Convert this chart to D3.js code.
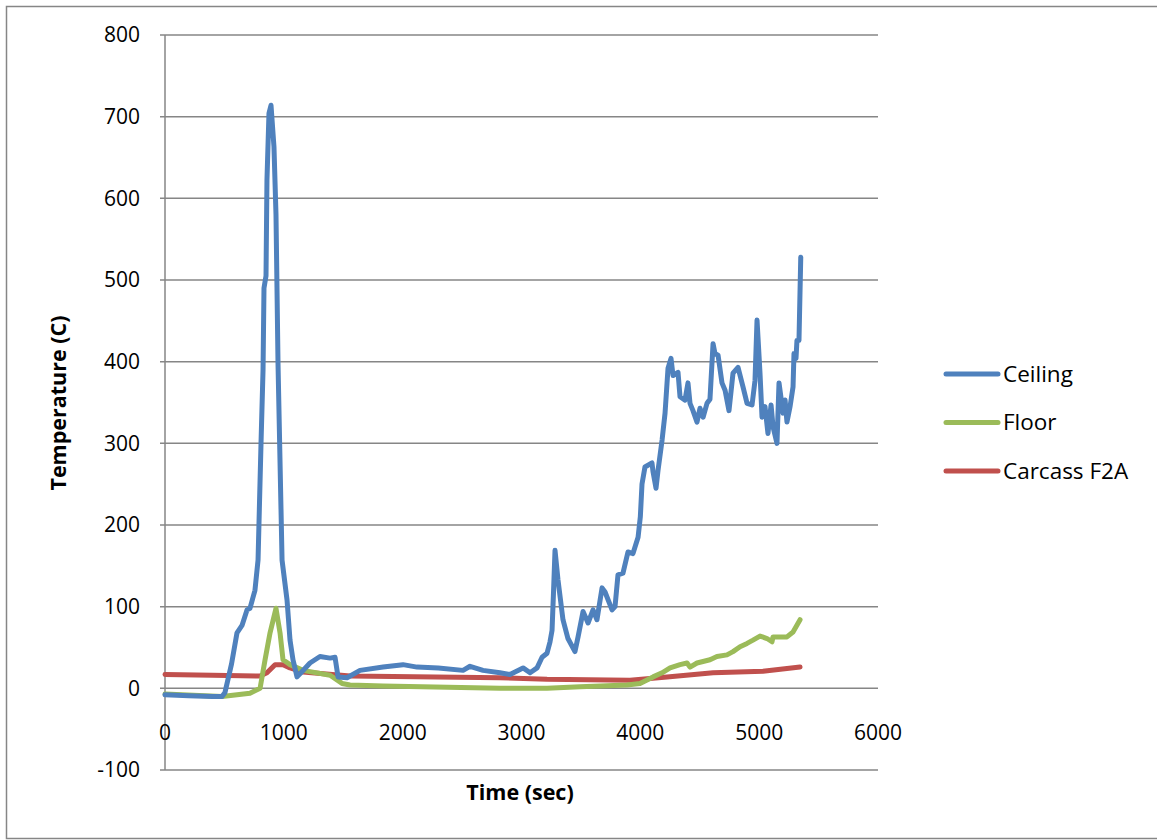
<!DOCTYPE html>
<meta charset="utf-8">
<title>Temperature vs time</title>
<style>
  body { margin: 0; background: #fff; }
  svg text { font-family: "Open Sans", Lato, sans-serif; fill: #000; }
  .grid line { stroke: #868686; stroke-width: 1.5px; }
  .series { fill: none; stroke-width: 5px; stroke-linejoin: round; stroke-linecap: round; }
</style>
<body>
<svg width="1157" height="840"></svg>
<script src="https://d3js.org/d3.v7.min.js"></script>
<script>
  // tick values
  var xTicks = [0, 1000, 2000, 3000, 4000, 5000, 6000];
  var yTicks = [-100, 0, 100, 200, 300, 400, 500, 600, 700, 800];

  // series: time (sec) and temperature (C)
  var ceilingTime = [0, 200, 400, 480, 505, 560, 606, 648, 690, 715, 757, 783, 808, 825, 833, 850, 858, 875, 892, 917, 934, 951, 985, 1027, 1052, 1077, 1111, 1150, 1220, 1304, 1389, 1431, 1456, 1532, 1641, 1835, 2003, 2121, 2300, 2508, 2567, 2676, 2819, 2903, 3013, 3072, 3131, 3173, 3215, 3240, 3257, 3270, 3282, 3307, 3349, 3391, 3450, 3476, 3518, 3560, 3602, 3635, 3678, 3703, 3762, 3787, 3812, 3854, 3896, 3938, 3981, 4000, 4014, 4039, 4098, 4107, 4132, 4149, 4183, 4208, 4233, 4258, 4275, 4317, 4334, 4376, 4401, 4418, 4443, 4477, 4502, 4528, 4561, 4586, 4612, 4628, 4654, 4687, 4713, 4746, 4780, 4822, 4864, 4898, 4940, 4965, 4982, 4990, 5007, 5024, 5049, 5074, 5100, 5117, 5150, 5167, 5201, 5218, 5234, 5260, 5285, 5293, 5310, 5318, 5335, 5350];
  var ceilingTemp = [-8, -9, -10, -10, -5, 30, 68, 77, 96, 98, 120, 157, 300, 390, 490, 505, 622, 704, 714, 663, 580, 398, 157, 108, 59, 35, 14, 20, 31, 39, 37, 38, 14, 13, 22, 26, 29, 26, 25, 22, 27, 22, 19, 17, 25, 19, 25, 38, 43, 57, 71, 120, 169, 133, 84, 61, 45, 63, 94, 80, 96, 84, 123, 118, 96, 100, 139, 141, 167, 165, 185, 210, 250, 271, 276, 265, 245, 267, 304, 337, 392, 404, 383, 387, 357, 353, 374, 349, 340, 326, 343, 332, 349, 354, 422, 410, 408, 374, 365, 340, 386, 393, 369, 349, 347, 377, 451, 430, 386, 332, 345, 312, 347, 320, 300, 374, 337, 353, 326, 345, 369, 410, 404, 426, 426, 528];

  var floorTime = [0, 480, 715, 800, 842, 884, 934, 968, 993, 1052, 1161, 1389, 1490, 1557, 1835, 2819, 3215, 3492, 3888, 3997, 4107, 4183, 4250, 4334, 4393, 4418, 4477, 4586, 4645, 4729, 4780, 4839, 4898, 4948, 5007, 5066, 5108, 5117, 5234, 5285, 5344];
  var floorTemp = [-7, -10, -6, 0, 35, 68, 98, 68, 35, 29, 22, 16, 6, 4, 3, 0, 0, 2, 4, 6, 14, 19, 25, 29, 31, 26, 31, 35, 39, 41, 45, 51, 55, 59, 64, 61, 57, 63, 63, 69, 84];

  var carcassTime = [0, 400, 800, 858, 926, 993, 1052, 1161, 1557, 2819, 3215, 3913, 4225, 4612, 5032, 5344];
  var carcassTemp = [17, 16, 15, 19, 29, 29, 25, 20, 15, 13, 11, 10, 14, 19, 21, 26];

  var seriesNames = ["Ceiling", "Floor", "Carcass F2A"];
  var seriesColors = ["#4F81BD", "#9BBB59", "#C0504D"];

  function zip(ts, vs) { return ts.map(function (t, i) { return { t: t, v: vs[i] }; }); }
  var series = [
    zip(ceilingTime, ceilingTemp),
    zip(floorTime, floorTemp),
    zip(carcassTime, carcassTemp)
  ];

  var svg = d3.select("svg");

  // outer chart frame
  svg.append("rect")
    .attr("x", 6.5).attr("y", 6.5).attr("width", 1160).attr("height", 832)
    .attr("fill", "none").attr("stroke", "#868686").attr("stroke-width", 1.5);

  var x = d3.scaleLinear().domain([0, 6000]).range([165, 878]);
  var y = d3.scaleLinear().domain([-100, 800]).range([770, 35]);

  // horizontal gridlines
  svg.append("g").attr("class", "grid")
    .selectAll("line").data(yTicks).enter().append("line")
    .attr("x1", x(0) - 5).attr("x2", x(6000))
    .attr("y1", function (d) { return y(d); })
    .attr("y2", function (d) { return y(d); });

  // vertical axis line
  svg.append("line")
    .attr("x1", x(0)).attr("x2", x(0))
    .attr("y1", y(800)).attr("y2", y(-100))
    .attr("stroke", "#868686").attr("stroke-width", 1.5);

  // y tick labels
  svg.append("g").selectAll("text").data(yTicks).enter().append("text")
    .attr("x", 140)
    .attr("y", function (d) { return y(d); })
    .attr("dy", "0.35em")
    .attr("text-anchor", "end")
    .style("font-size", "21px")
    .text(function (d) { return d; });

  // x tick labels (sit below the zero line)
  svg.append("g").selectAll("text").data(xTicks).enter().append("text")
    .attr("x", function (d) { return x(d); })
    .attr("y", 733)
    .attr("dy", "0.35em")
    .attr("text-anchor", "middle")
    .style("font-size", "21px")
    .text(function (d) { return d; });

  // axis titles
  svg.append("text")
    .attr("transform", "translate(58,403) rotate(-90)")
    .attr("text-anchor", "middle")
    .attr("dy", "0.35em")
    .style("font-size", "21.5px").style("font-weight", "bold")
    .text("Temperature (C)");

  svg.append("text")
    .attr("x", 520).attr("y", 792)
    .attr("dy", "0.35em")
    .attr("text-anchor", "middle")
    .style("font-size", "21.5px").style("font-weight", "bold")
    .text("Time (sec)");

  // lines, drawn carcass first so ceiling sits on top
  var line = d3.line()
    .x(function (d) { return x(d.t); })
    .y(function (d) { return y(d.v); });

  [2, 1, 0].forEach(function (i) {
    svg.append("path")
      .datum(series[i])
      .attr("class", "series")
      .attr("stroke", seriesColors[i])
      .attr("d", line);
  });

  // legend
  var legend = svg.append("g").selectAll("g").data(seriesNames).enter().append("g")
    .attr("transform", function (d, i) { return "translate(0," + (374 + i * 48.5) + ")"; });

  legend.append("line")
    .attr("x1", 946).attr("x2", 998)
    .attr("stroke", function (d, i) { return seriesColors[i]; })
    .attr("stroke-width", 5).attr("stroke-linecap", "round");

  legend.append("text")
    .attr("x", 1003).attr("dy", "0.35em")
    .style("font-size", "22.5px")
    .text(function (d) { return d; });
</script>
</body>
